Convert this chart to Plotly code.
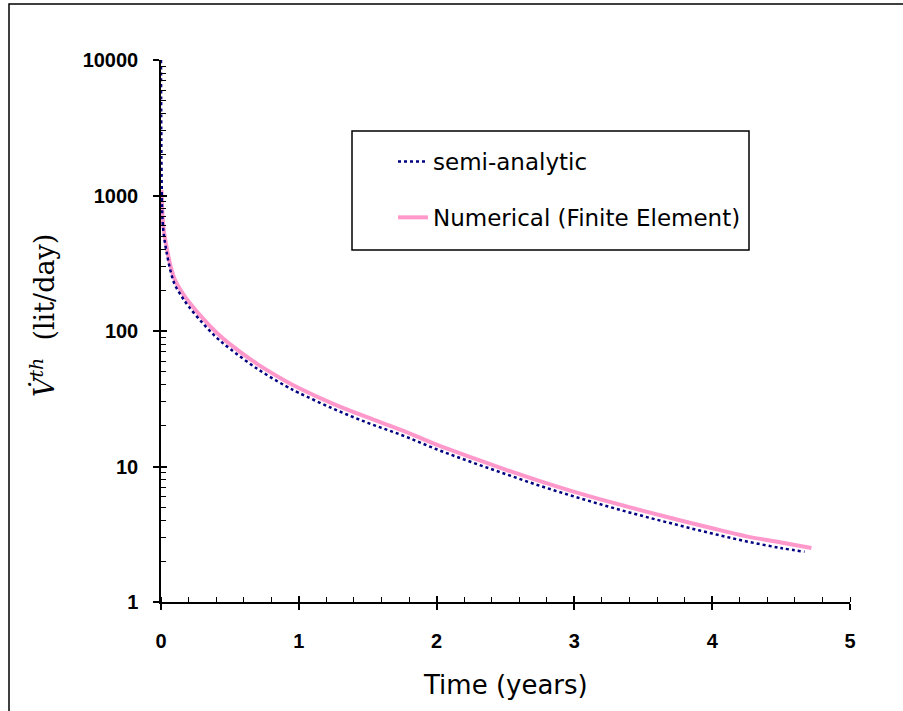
import plotly.graph_objects as go

# ---- data ----
t_numerical = [0.003, 0.01, 0.02, 0.04, 0.07, 0.1, 0.15, 0.2, 0.3, 0.4, 0.5, 0.7, 0.9, 1.0,
               1.25, 1.5, 1.75, 2.0, 2.25, 2.5, 2.75, 3.0, 3.25, 3.5, 3.75, 4.0, 4.25, 4.5, 4.72]
v_numerical = [1100, 750, 560, 420, 300, 240, 195, 165, 125, 98, 80, 57, 43, 38,
               29, 23, 18.5, 14.5, 11.7, 9.5, 7.8, 6.5, 5.5, 4.7, 4.05, 3.5, 3.05, 2.75, 2.5]

t_semi = [0.0, 0.002, 0.004, 0.01, 0.02, 0.04, 0.07, 0.1, 0.15, 0.2, 0.3, 0.4, 0.5, 0.7, 0.9, 1.0,
          1.25, 1.5, 1.75, 2.0, 2.25, 2.5, 2.75, 3.0, 3.25, 3.5, 3.75, 4.0, 4.25, 4.5, 4.67]
v_semi = [10000, 3000, 1500, 700, 520, 385, 275, 220, 180, 152, 115, 90, 74, 52.5, 39.5, 35,
          26.7, 21, 17, 13.4, 10.8, 8.8, 7.2, 6.0, 5.05, 4.3, 3.7, 3.2, 2.8, 2.5, 2.35]

x_ticks = [0, 1, 2, 3, 4, 5]
y_ticks = [1, 10, 100, 1000, 10000]
y_ticktext = ["1", "10", "100", "1000", "10000"]
y_minor = [m * 10 ** k for k in range(4) for m in range(2, 10)]

# ---- geometry (body margin removed by post_script) ----
W, H = 903, 711
X0S, X1S, Y0S, Y1S = 161, 850, 60, 602          # plot area in screen pixels
L, T = X0S, Y0S
PW, PH = X1S - X0S, Y1S - Y0S
R, B = W - L - PW, H - T - PH


def px(x):
    return (x - X0S) / PW


def py(y):
    return (Y1S - y) / PH


fig = go.Figure()

fig.add_trace(go.Scatter(
    x=t_numerical, y=v_numerical, mode="lines", name="Numerical (Finite Element)",
    line=dict(color="#FF99CC", width=4, shape="spline"), legendrank=2, legendgroup="b",
))
fig.add_trace(go.Scatter(
    x=t_semi, y=v_semi, mode="lines", name="semi-analytic",
    line=dict(color="#000080", width=2.5, dash="dot", shape="spline"), legendrank=1,
    legendgroup="a",
))
# invisible helper trace for the overlay axes (inside major ticks)
fig.add_trace(go.Scatter(x=[t_semi[0]], y=[v_semi[0]], xaxis="x2", yaxis="y2",
                         mode="markers", marker=dict(opacity=0), showlegend=False,
                         hoverinfo="skip"))

tickfont = dict(family="Liberation Sans", size=20, color="black", weight="bold")

fig.update_layout(
    width=W, height=H,
    margin=dict(l=L, r=R, t=T, b=B, pad=0),
    paper_bgcolor="white", plot_bgcolor="white",
    showlegend=True,
    legend=dict(x=px(393), y=py(140), xanchor="left", yanchor="top",
                bgcolor="rgba(0,0,0,0)", borderwidth=0,
                font=dict(family="DejaVu Sans", size=23, color="black"),
                traceorder="grouped", tracegroupgap=23),
    xaxis=dict(range=[0, 5], tickvals=x_ticks, tickfont=tickfont,
               showline=True, linecolor="black", linewidth=1.5,
               ticks="outside", ticklen=6, tickwidth=1.5, tickcolor="black",
               ticklabelstandoff=14,
               showgrid=False, zeroline=False,
               minor=dict(ticks="inside", dtick=0.2, ticklen=5, tickwidth=1.2,
                          tickcolor="black", showgrid=False)),
    yaxis=dict(type="log", range=[0, 4], tickvals=y_ticks, ticktext=y_ticktext, tickfont=tickfont,
               showline=True, linecolor="black", linewidth=1.5,
               ticks="outside", ticklen=6, tickwidth=1.5, tickcolor="black",
               ticklabelstandoff=11,
               showgrid=False, zeroline=False,
               minor=dict(ticks="inside", tickvals=y_minor, ticklen=5, tickwidth=1.2,
                          tickcolor="black", showgrid=False)),
    xaxis2=dict(overlaying="x", matches="x", anchor="y", side="bottom",
                tickvals=x_ticks, showticklabels=False, ticks="inside", ticklen=6,
                tickwidth=1.5, tickcolor="black", showgrid=False, zeroline=False, showline=False),
    yaxis2=dict(overlaying="y", type="log", range=[0, 4], anchor="x", side="left",
                tickvals=y_ticks, showticklabels=False, ticks="inside", ticklen=6,
                tickwidth=1.5, tickcolor="black", showgrid=False, zeroline=False, showline=False),
    shapes=[
        # outer frame
        dict(type="rect", xref="paper", yref="paper",
             x0=px(9), x1=px(940), y0=py(740), y1=py(4),
             line=dict(color="black", width=1.5), layer="below"),
        # legend box
        dict(type="rect", xref="paper", yref="paper",
             x0=px(352), x1=px(749), y0=py(250), y1=py(131),
             line=dict(color="black", width=1.5), fillcolor="white", layer="below"),
    ],
    annotations=[
        dict(text="<i>V\u0307</i><sup><i>th</i></sup>  (lit/day)", xref="paper", yref="paper",
             x=px(42), y=py(316), xanchor="center", yanchor="middle", textangle=-90,
             showarrow=False, font=dict(family="DejaVu Serif", size=27, color="black")),
        dict(text="Time (years)", xref="paper", yref="paper",
             x=px(505), y=py(685), xanchor="center", yanchor="middle",
             showarrow=False, font=dict(family="DejaVu Sans", size=26, color="black")),
    ],
)

fig.write_html("out.html", config={"displayModeBar": False},
               post_script="document.body.style.margin='0';")
